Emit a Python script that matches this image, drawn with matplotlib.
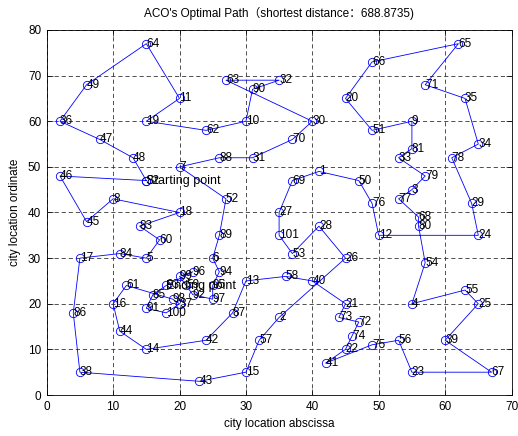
import numpy as np
import matplotlib
matplotlib.use("Agg")
import matplotlib.pyplot as plt

plt.rcParams['font.family'] = ['Liberation Sans', 'Noto Sans CJK SC', 'DejaVu Sans']

# city coordinates (city i is at index i-1)
city_x = [41,35,55,55,15,25,20,10,55,30,20,50,30,15,30,10,5,20,15,45,45,45,55,65,65,45,35,41,64,40,
          31,35,53,65,63,2,20,5,60,40,42,24,23,11,6,2,8,13,6,47,49,27,37,57,63,53,32,36,21,17,
          12,24,27,15,62,49,67,56,37,37,57,47,44,46,49,49,53,61,57,56,55,15,14,11,16,4,28,26,26,31,
          15,22,18,26,25,22,25,19,20,18,35]
city_y = [49,17,45,20,30,30,50,43,60,60,65,35,25,10,5,20,30,40,60,65,20,10,5,35,20,30,40,37,42,60,
          52,69,52,55,65,60,20,5,12,25,7,12,3,14,38,48,56,52,68,47,58,43,31,29,23,12,12,26,24,34,
          24,58,69,77,77,73,5,39,47,56,68,16,17,13,11,42,43,52,48,37,54,47,37,31,22,18,18,52,35,67,
          19,22,24,27,24,27,21,21,26,18,35]

# best route found by the ant colony (closed tour)
route = [82,48,47,36,49,64,11,19,62,10,90,32,63,30,70,31,88,7,52,89,6,94,
         95,97,92,59,99,96,93,85,91,100,37,98,
         61,16,44,14,42,87,13,58,40,21,73,72,74,22,41,75,56,23,67,39,25,55,4,54,80,68,77,3,79,33,
         81,9,51,20,66,65,71,35,34,78,29,24,12,76,50,1,69,27,101,53,28,26,2,57,15,43,38,86,17,84,
         5,60,83,18,8,45,46,82]
shortest_length = 688.8735
start_node = 82
end_node = 93

cx = np.array(city_x, dtype=float)
cy = np.array(city_y, dtype=float)
r = np.array(route) - 1

fig = plt.figure(figsize=(5.18, 4.36), dpi=100)
ax = fig.add_axes([46.7/518, 1-395/436, (511.5-46.7)/518, (395-30)/436])

ax.plot(cx[r], cy[r], '-', color=(0, 0, 1), lw=0.6, marker='o', ms=6,
        mfc='none', mec=(0, 0, 1), mew=0.6, zorder=3)

fs = 8.5
for i in range(len(cx)):
    ax.text(cx[i], cy[i], str(i+1), fontsize=fs, ha='left', va='center', zorder=4)
ax.text(cx[start_node-1], cy[start_node-1], 'Starting point', fontsize=fs+0.5,
        ha='left', va='center', zorder=4)
ax.text(cx[end_node-1], cy[end_node-1], 'Ending point', fontsize=fs+0.5,
        ha='left', va='center', zorder=4)

ax.set_xlim(0, 70)
ax.set_ylim(0, 80)
ax.set_xticks(np.arange(0, 71, 10))
ax.set_yticks(np.arange(0, 81, 10))
ax.tick_params(direction='in', length=4, width=0.5, top=True, right=True,
               labelsize=fs, pad=4, colors='black')
ax.grid(True, color='0.2', linestyle=(0, (5, 3.5)), linewidth=0.6)
for s in ax.spines.values():
    s.set_linewidth(0.6)
    s.set_color('black')

ax.set_title('ACO\'s Optimal Path（shortest distance：' + f'{shortest_length:.4f}' + ')',
             fontsize=fs, pad=9)
ax.set_xlabel('city location abscissa', fontsize=fs, labelpad=4)
ax.set_ylabel('city location ordinate', fontsize=fs, labelpad=5)

fig.savefig('out.png', dpi=100)
